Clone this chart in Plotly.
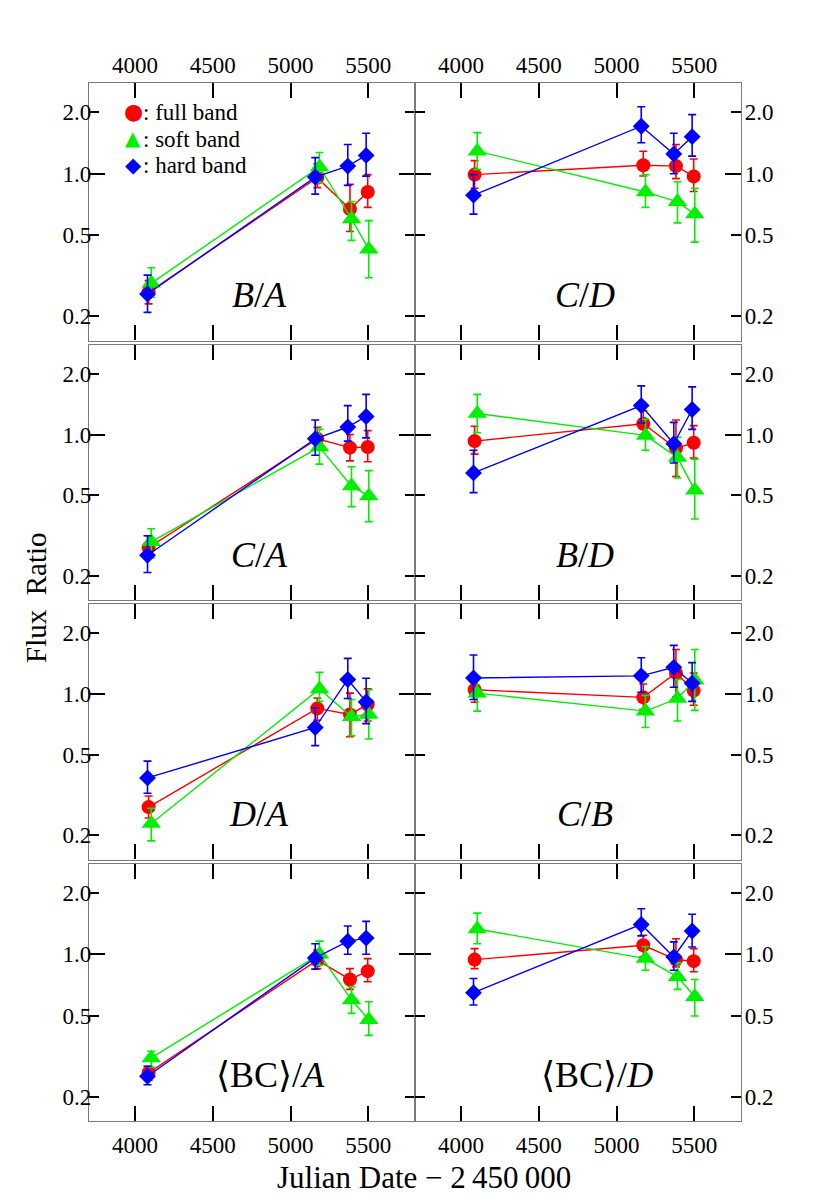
import plotly.graph_objects as go

# ---------------- data ----------------
x_ticks = [4000, 4500, 5000, 5500]
y_tickvals = [0.2, 0.5, 1.0, 2.0]
y_ticktext = ["0.2", "0.5", "1.0", "2.0"]

dates_full = [4088, 5172, 5382, 5496]
dates_soft = [4105, 5186, 5392, 5503]
dates_hard = [4081, 5159, 5368, 5486]

band_names = [": full band", ": soft band", ": hard band"]
band_glyphs = ["\u25CF", "\u25B2", "\u25C6"]

panel_labels = ["<i>B</i>/<i>A</i>", "<i>C</i>/<i>D</i>",
                "<i>C</i>/<i>A</i>", "<i>B</i>/<i>D</i>",
                "<i>D</i>/<i>A</i>", "<i>C</i>/<i>B</i>",
                "⟨BC⟩/<i>A</i>", "⟨BC⟩/<i>D</i>"]

# B/A
BA_full = [0.262, 0.956, 0.671, 0.814]; BA_full_hi = [0.299, 1.12, 0.887, 0.99]; BA_full_lo = [0.230, 0.855, 0.521, 0.684]
BA_soft = [0.290, 1.08, 0.60, 0.426]; BA_soft_hi = [0.346, 1.27, 0.731, 0.589]; BA_soft_lo = [0.248, 0.904, 0.471, 0.309]
BA_hard = [0.257, 0.963, 1.09, 1.23]; BA_hard_hi = [0.318, 1.20, 1.39, 1.58]; BA_hard_lo = [0.209, 0.794, 0.877, 0.973]
# C/D
CD_full = [0.99, 1.10, 1.09, 0.97]; CD_full_hi = [1.16, 1.29, 1.39, 1.18]; CD_full_lo = [0.849, 0.974, 0.946, 0.818]
CD_soft = [1.29, 0.814, 0.728, 0.634]; CD_soft_hi = [1.59, 0.99, 0.914, 0.849]; CD_soft_lo = [1.05, 0.684, 0.574, 0.462]
CD_hard = [0.785, 1.71, 1.25, 1.52]; CD_hard_hi = [0.99, 2.13, 1.58, 1.95]; CD_hard_lo = [0.634, 1.42, 1.0, 1.22]
# C/A
CA_full = [0.276, 0.952, 0.861, 0.867]; CA_full_hi = [0.316, 1.085, 1.0, 1.045]; CA_full_lo = [0.246, 0.839, 0.741, 0.733]
CA_soft = [0.295, 0.867, 0.556, 0.497]; CA_soft_hi = [0.342, 1.06, 0.693, 0.663]; CA_soft_lo = [0.246, 0.714, 0.44, 0.371]
CA_hard = [0.253, 0.952, 1.089, 1.228]; CA_hard_hi = [0.316, 1.18, 1.39, 1.58]; CA_hard_lo = [0.208, 0.79, 0.928, 0.963]
# B/D
BD_full = [0.928, 1.13, 0.855, 0.91]; BD_full_hi = [1.098, 1.31, 1.18, 1.106]; BD_full_lo = [0.8, 1.0, 0.62, 0.764]
BD_soft = [1.27, 0.99, 0.769, 0.53]; BD_soft_hi = [1.58, 1.19, 0.97, 0.756]; BD_soft_lo = [1.02, 0.836, 0.61, 0.382]
BD_hard = [0.646, 1.39, 0.9, 1.33]; BD_hard_hi = [0.836, 1.74, 1.148, 1.72]; BD_hard_lo = [0.516, 1.14, 0.723, 1.06]
# D/A
DA_full = [0.276, 0.849, 0.793, 0.888]; DA_full_hi = [0.313, 0.956, 1.01, 1.06]; DA_full_lo = [0.244, 0.742, 0.615, 0.736]
DA_soft = [0.229, 1.06, 0.772, 0.793]; DA_soft_hi = [0.272, 1.28, 0.939, 1.05]; DA_soft_lo = [0.188, 0.921, 0.622, 0.599]
DA_hard = [0.385, 0.683, 1.18, 0.914]; DA_hard_hi = [0.466, 0.855, 1.5, 1.197]; DA_hard_lo = [0.323, 0.556, 0.95, 0.714]
# C/B
CB_full = [1.05, 0.963, 1.27, 1.04]; CB_full_hi = [1.23, 1.12, 1.66, 1.27]; CB_full_lo = [0.91, 0.84, 0.97, 0.88]
CB_soft = [1.01, 0.823, 0.95, 1.17]; CB_soft_hi = [1.22, 0.985, 1.18, 1.66]; CB_soft_lo = [0.823, 0.683, 0.736, 0.83]
CB_hard = [1.2, 1.23, 1.355, 1.13]; CB_hard_hi = [1.56, 1.51, 1.74, 1.43]; CB_hard_lo = [0.94, 1.02, 1.08, 0.92]
# <BC>/A
BCA_full = [0.262, 0.935, 0.752, 0.826]; BCA_full_hi = [0.282, 1.05, 0.85, 0.952]; BCA_full_lo = [0.241, 0.85, 0.672, 0.733]
BCA_soft = [0.31, 1.0, 0.597, 0.477]; BCA_soft_hi = [0.334, 1.16, 0.693, 0.585]; BCA_soft_lo = [0.28, 0.884, 0.513, 0.4]
BCA_hard = [0.252, 0.959, 1.157, 1.2]; BCA_hard_hi = [0.282, 1.126, 1.375, 1.45]; BCA_hard_lo = [0.229, 0.845, 1.0, 1.0]
# <BC>/D
BCD_full = [0.941, 1.106, 0.941, 0.925]; BCD_full_hi = [1.065, 1.24, 1.19, 1.065]; BCD_full_lo = [0.85, 0.97, 0.867, 0.82]
BCD_soft = [1.33, 0.952, 0.775, 0.619]; BCD_soft_hi = [1.59, 1.09, 0.907, 0.752]; BCD_soft_lo = [1.126, 0.835, 0.672, 0.498]
BCD_hard = [0.648, 1.4, 0.97, 1.3]; BCD_hard_hi = [0.76, 1.67, 1.15, 1.57]; BCD_hard_lo = [0.564, 1.23, 0.835, 1.085]

panels = [
    [(BA_full, BA_full_hi, BA_full_lo), (BA_soft, BA_soft_hi, BA_soft_lo), (BA_hard, BA_hard_hi, BA_hard_lo)],
    [(CD_full, CD_full_hi, CD_full_lo), (CD_soft, CD_soft_hi, CD_soft_lo), (CD_hard, CD_hard_hi, CD_hard_lo)],
    [(CA_full, CA_full_hi, CA_full_lo), (CA_soft, CA_soft_hi, CA_soft_lo), (CA_hard, CA_hard_hi, CA_hard_lo)],
    [(BD_full, BD_full_hi, BD_full_lo), (BD_soft, BD_soft_hi, BD_soft_lo), (BD_hard, BD_hard_hi, BD_hard_lo)],
    [(DA_full, DA_full_hi, DA_full_lo), (DA_soft, DA_soft_hi, DA_soft_lo), (DA_hard, DA_hard_hi, DA_hard_lo)],
    [(CB_full, CB_full_hi, CB_full_lo), (CB_soft, CB_soft_hi, CB_soft_lo), (CB_hard, CB_hard_hi, CB_hard_lo)],
    [(BCA_full, BCA_full_hi, BCA_full_lo), (BCA_soft, BCA_soft_hi, BCA_soft_lo), (BCA_hard, BCA_hard_hi, BCA_hard_lo)],
    [(BCD_full, BCD_full_hi, BCD_full_lo), (BCD_soft, BCD_soft_hi, BCD_soft_lo), (BCD_hard, BCD_hard_hi, BCD_hard_lo)],
]

# ---------------- style ----------------
FONT = "Liberation Serif, Times New Roman, DejaVu Serif, serif"
GLYPH_FONT = "DejaVu Sans, sans-serif"
band_dates = [dates_full, dates_soft, dates_hard]
band_colors = ["#ff0000", "#00f000", "#0000ff"]
band_symbols = ["circle", "triangle-up", "diamond"]
band_sizes = [14, 17, 13]
glyph_sizes = [22, 20, 21]

# page body has an 8px margin; size the figure so the page fits the window
OFF = 8
W, H = 830 - 2 * OFF, 1204 - 2 * OFF
ML, MR, MT, MB = 81, 81, 75, 75
PW, PH = W - ML - MR, H - MT - MB
gap = 2.0 / PH


def px_x(xabs):
    return (xabs - OFF - ML) / PW


def px_y(yabs):
    return (H - MB + OFF - yabs) / PH


fig = go.Figure()
layout = dict(
    width=W, height=H, margin=dict(l=ML, r=MR, t=MT, b=MB),
    paper_bgcolor="white", plot_bgcolor="white",
    font=dict(family=FONT, size=23, color="black"),
    showlegend=False,
)

annotations = []
for p in range(8):
    row, col = divmod(p, 2)
    idx = p + 1
    xa = "x" if idx == 1 else f"x{idx}"
    ya = "y" if idx == 1 else f"y{idx}"
    x0 = 0.0 if col == 0 else 0.5
    x1 = 0.5 if col == 0 else 1.0
    y1 = 1.0 - row * 0.25 - (gap if row > 0 else 0)
    y0 = 1.0 - (row + 1) * 0.25 + (gap if row < 3 else 0)
    xkey = "xaxis" if idx == 1 else f"xaxis{idx}"
    ykey = "yaxis" if idx == 1 else f"yaxis{idx}"
    layout[xkey] = dict(
        domain=[x0, x1], anchor=ya, range=[3705, 5800],
        tickmode="array", tickvals=x_ticks, ticks="inside", ticklen=15, tickwidth=2,
        tickcolor="black", showline=True, linecolor="#7a7a7a", linewidth=1.2,
        mirror="ticks", showgrid=False, zeroline=False,
        showticklabels=(row == 0 or row == 3),
        side="top" if row == 0 else "bottom",
        ticklabelstandoff=0 if row == 0 else 3,
        tickfont=dict(family=FONT, size=23, color="black"),
    )
    layout[ykey] = dict(
        domain=[y0, y1], anchor=xa, type="log", range=[-0.818, 0.445],
        tickmode="array", tickvals=y_tickvals, ticktext=y_ticktext,
        ticks="inside", ticklen=10, tickwidth=2, tickcolor="black",
        minor=dict(tickmode="array", tickvals=[1.0], ticks="inside", ticklen=16,
                   tickwidth=2, tickcolor="black", showgrid=False),
        showline=True, linecolor="#7a7a7a", linewidth=1.2, mirror="ticks",
        showgrid=False, zeroline=False, side="left" if col == 0 else "right",
        ticklabelstandoff=-8 if col == 0 else -2,
        tickfont=dict(family=FONT, size=23, color="black"),
    )
    for b in range(3):
        vals, hi, lo = panels[p][b]
        fig.add_trace(go.Scatter(
            x=band_dates[b], y=vals, xaxis=xa, yaxis=ya, mode="lines+markers",
            line=dict(color=band_colors[b], width=1.4),
            marker=dict(symbol=band_symbols[b], size=band_sizes[b], color=band_colors[b]),
            error_y=dict(type="data", symmetric=False,
                         array=[h - v for h, v in zip(hi, vals)],
                         arrayminus=[v - l for v, l in zip(vals, lo)],
                         color=band_colors[b], thickness=1.6, width=4),
            showlegend=False, hoverinfo="skip",
        ))
    lx = 0.523 if row < 3 else 0.558
    annotations.append(dict(
        text=panel_labels[p], xref=f"{xa} domain", yref=f"{ya} domain",
        x=lx, y=0.177, xanchor="center", yanchor="middle", showarrow=False,
        font=dict(family=FONT, size=36, color="black"),
    ))

# hand-made legend (glyph + label) inside the first panel
legend_rows_y = [112.7, 139.3, 166.0]
for b in range(3):
    annotations.append(dict(
        text=band_glyphs[b], xref="paper", yref="paper",
        x=px_x(133), y=px_y(legend_rows_y[b] - 1), xanchor="center", yanchor="middle",
        showarrow=False, font=dict(family=GLYPH_FONT, size=glyph_sizes[b], color=band_colors[b]),
    ))
    annotations.append(dict(
        text=band_names[b], xref="paper", yref="paper",
        x=px_x(141), y=px_y(legend_rows_y[b]), xanchor="left", yanchor="middle",
        showarrow=False, font=dict(family=FONT, size=23, color="black"),
    ))

annotations.append(dict(
    text="Flux\u2002Ratio", xref="paper", yref="paper",
    x=px_x(36), y=px_y(598), xanchor="center", yanchor="middle",
    textangle=-90, showarrow=False, font=dict(family=FONT, size=29, color="black"),
))
annotations.append(dict(
    text="Julian Date \u2212 2\u2009450\u2009000", xref="paper", yref="paper",
    x=px_x(424), y=px_y(1177), xanchor="center", yanchor="middle",
    showarrow=False, font=dict(family=FONT, size=31, color="black"),
))
layout["annotations"] = annotations

fig.update_layout(**layout)
fig.write_html("out.html")
